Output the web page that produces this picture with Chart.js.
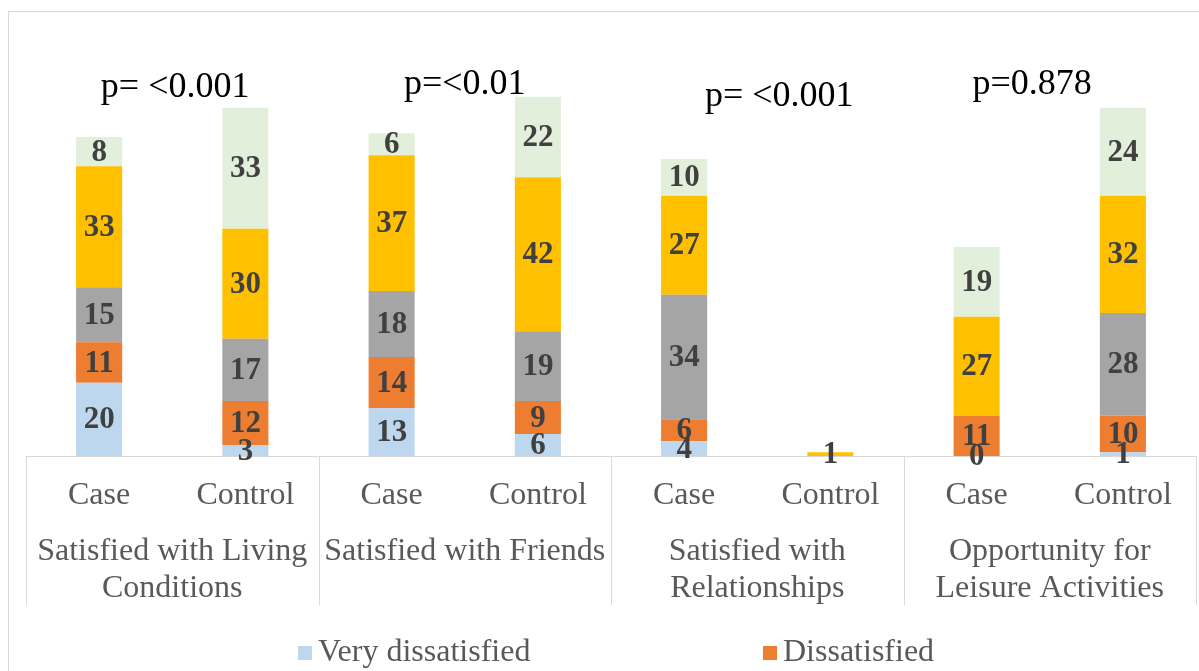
<!DOCTYPE html>
<html>
<head>
<meta charset="utf-8">
<style>
  html, body { margin: 0; padding: 0; background: #ffffff; }
  #wrap { width: 1199px; height: 671px; position: relative; }
</style>
<script src="https://cdn.jsdelivr.net/npm/chart.js@4.4.1/dist/chart.umd.min.js"></script>
</head>
<body>
<div id="wrap"><canvas id="chart"></canvas></div>
<script>
// Outcome groups (two-line captions) and the two arms compared in each
const groupNames = [
  ["Satisfied with Living", "Conditions"],
  ["Satisfied with Friends"],
  ["Satisfied with", "Relationships"],
  ["Opportunity for", "Leisure Activities"]
];
const arms = ["Case", "Control"];

// Counts per response level, ordered Case/Control for each group
const veryDissatisfied = [20, 3, 13, 6, 4, null, 0, 1];
const dissatisfied     = [11, 12, 14, 9, 6, null, 11, 10];
const neutral          = [15, 17, 18, 19, 34, null, null, 28];
const satisfied        = [33, 30, 37, 42, 27, 1, 27, 32];
const verySatisfied    = [8, 33, 6, 22, 10, null, 19, 24];

// Significance notes above each group: text, x in category units, y in count units
const pTexts = ["p= <0.001", "p=<0.01", "p= <0.001", "p=0.878"];
const pX     = [0.52, 2.5, 4.65, 6.38];
const pY     = [100.4, 101.2, 97.9, 101.2];

const seriesNames  = ["Very dissatisfied", "Dissatisfied", "Neutral", "Satisfied", "Very satisfied"];
const seriesValues = [veryDissatisfied, dissatisfied, neutral, satisfied, verySatisfied];
const seriesColors = ["#BDD7EE", "#ED7D31", "#A5A5A5", "#FFC000", "#E2EFDA"];

const categories = [];
groupNames.forEach(() => arms.forEach(a => categories.push(a)));

const SERIF = "'Liberation Serif', 'Times New Roman', serif";
const AXIS_GRAY = "#d9d9d9";
const TEXT_GRAY = "#595959";

const decorations = {
  id: "decorations",
  beforeDraw(chart) {
    const ctx = chart.ctx;
    ctx.save();
    ctx.strokeStyle = AXIS_GRAY;
    ctx.lineWidth = 1;
    ctx.strokeRect(8.5, 11.5, chart.width + 20, chart.height + 20);
    ctx.restore();
  },
  afterDraw(chart) {
    const ctx = chart.ctx;
    const xs = chart.scales.x;
    const ys = chart.scales.y;
    const slot = (xs.right - xs.left) / categories.length;
    const base = ys.getPixelForValue(0);

    ctx.save();
    // group separators below the axis
    ctx.strokeStyle = AXIS_GRAY;
    ctx.lineWidth = 1;
    for (let g = 0; g <= groupNames.length; g++) {
      const px = Math.round(xs.left + g * 2 * slot) + 0.5;
      ctx.beginPath();
      ctx.moveTo(px, base);
      ctx.lineTo(px, 605);
      ctx.stroke();
    }

    // group captions
    ctx.fillStyle = TEXT_GRAY;
    ctx.font = "32px " + SERIF;
    ctx.textAlign = "center";
    ctx.textBaseline = "middle";
    groupNames.forEach((lines, g) => {
      const cx = xs.left + (g * 2 + 1) * slot;
      lines.forEach((t, i) => ctx.fillText(t, cx, 552 + i * 37));
    });

    // value labels in the middle of each segment
    ctx.fillStyle = "#404040";
    ctx.font = "bold 31px " + SERIF;
    chart.data.datasets.forEach((ds, di) => {
      const meta = chart.getDatasetMeta(di);
      meta.data.forEach((el, i) => {
        const v = ds.data[i];
        if (v === null || v === undefined) return;
        ctx.fillText(String(v), el.x, (el.y + el.base) / 2 + 1);
      });
    });

    // significance notes
    ctx.fillStyle = "#000000";
    ctx.font = "36px " + SERIF;
    pTexts.forEach((t, i) => {
      const px = xs.left + (pX[i] + 0.5) * slot;
      ctx.fillText(t, px, ys.getPixelForValue(pY[i]));
    });

    // legend, two entries per row
    ctx.font = "32px " + SERIF;
    ctx.textAlign = "left";
    seriesNames.forEach((name, i) => {
      const col = i % 2, row = Math.floor(i / 2);
      const lx = 298 + col * 465;
      const ly = 653 + row * 40;
      ctx.fillStyle = seriesColors[i];
      ctx.fillRect(lx, ly - 7, 14, 14);
      ctx.fillStyle = TEXT_GRAY;
      ctx.fillText(name, lx + 20, ly);
    });
    ctx.restore();
  }
};

new Chart(document.getElementById("chart"), {
  type: "bar",
  data: {
    labels: categories,
    datasets: seriesNames.map((name, i) => ({
      label: name,
      data: seriesValues[i],
      backgroundColor: seriesColors[i],
      borderWidth: 0,
      barPercentage: 0.315,
      categoryPercentage: 1.0
    }))
  },
  options: {
    responsive: true,
    maintainAspectRatio: false,
    animation: false,
    devicePixelRatio: 1,
    layout: { padding: { top: 16, left: 26, right: 3, bottom: 0 } },
    plugins: {
      legend: { display: false },
      tooltip: { enabled: false }
    },
    scales: {
      x: {
        stacked: true,
        offset: true,
        grid: { display: false },
        border: { display: true, color: AXIS_GRAY, width: 1 },
        ticks: {
          color: TEXT_GRAY,
          font: { family: SERIF, size: 32 },
          padding: 12,
          maxRotation: 0,
          autoSkip: false
        },
        afterFit(scale) { scale.height = 215; }
      },
      y: {
        stacked: true,
        display: false,
        min: 0,
        max: 120
      }
    }
  },
  plugins: [decorations]
});
</script>
</body>
</html>
